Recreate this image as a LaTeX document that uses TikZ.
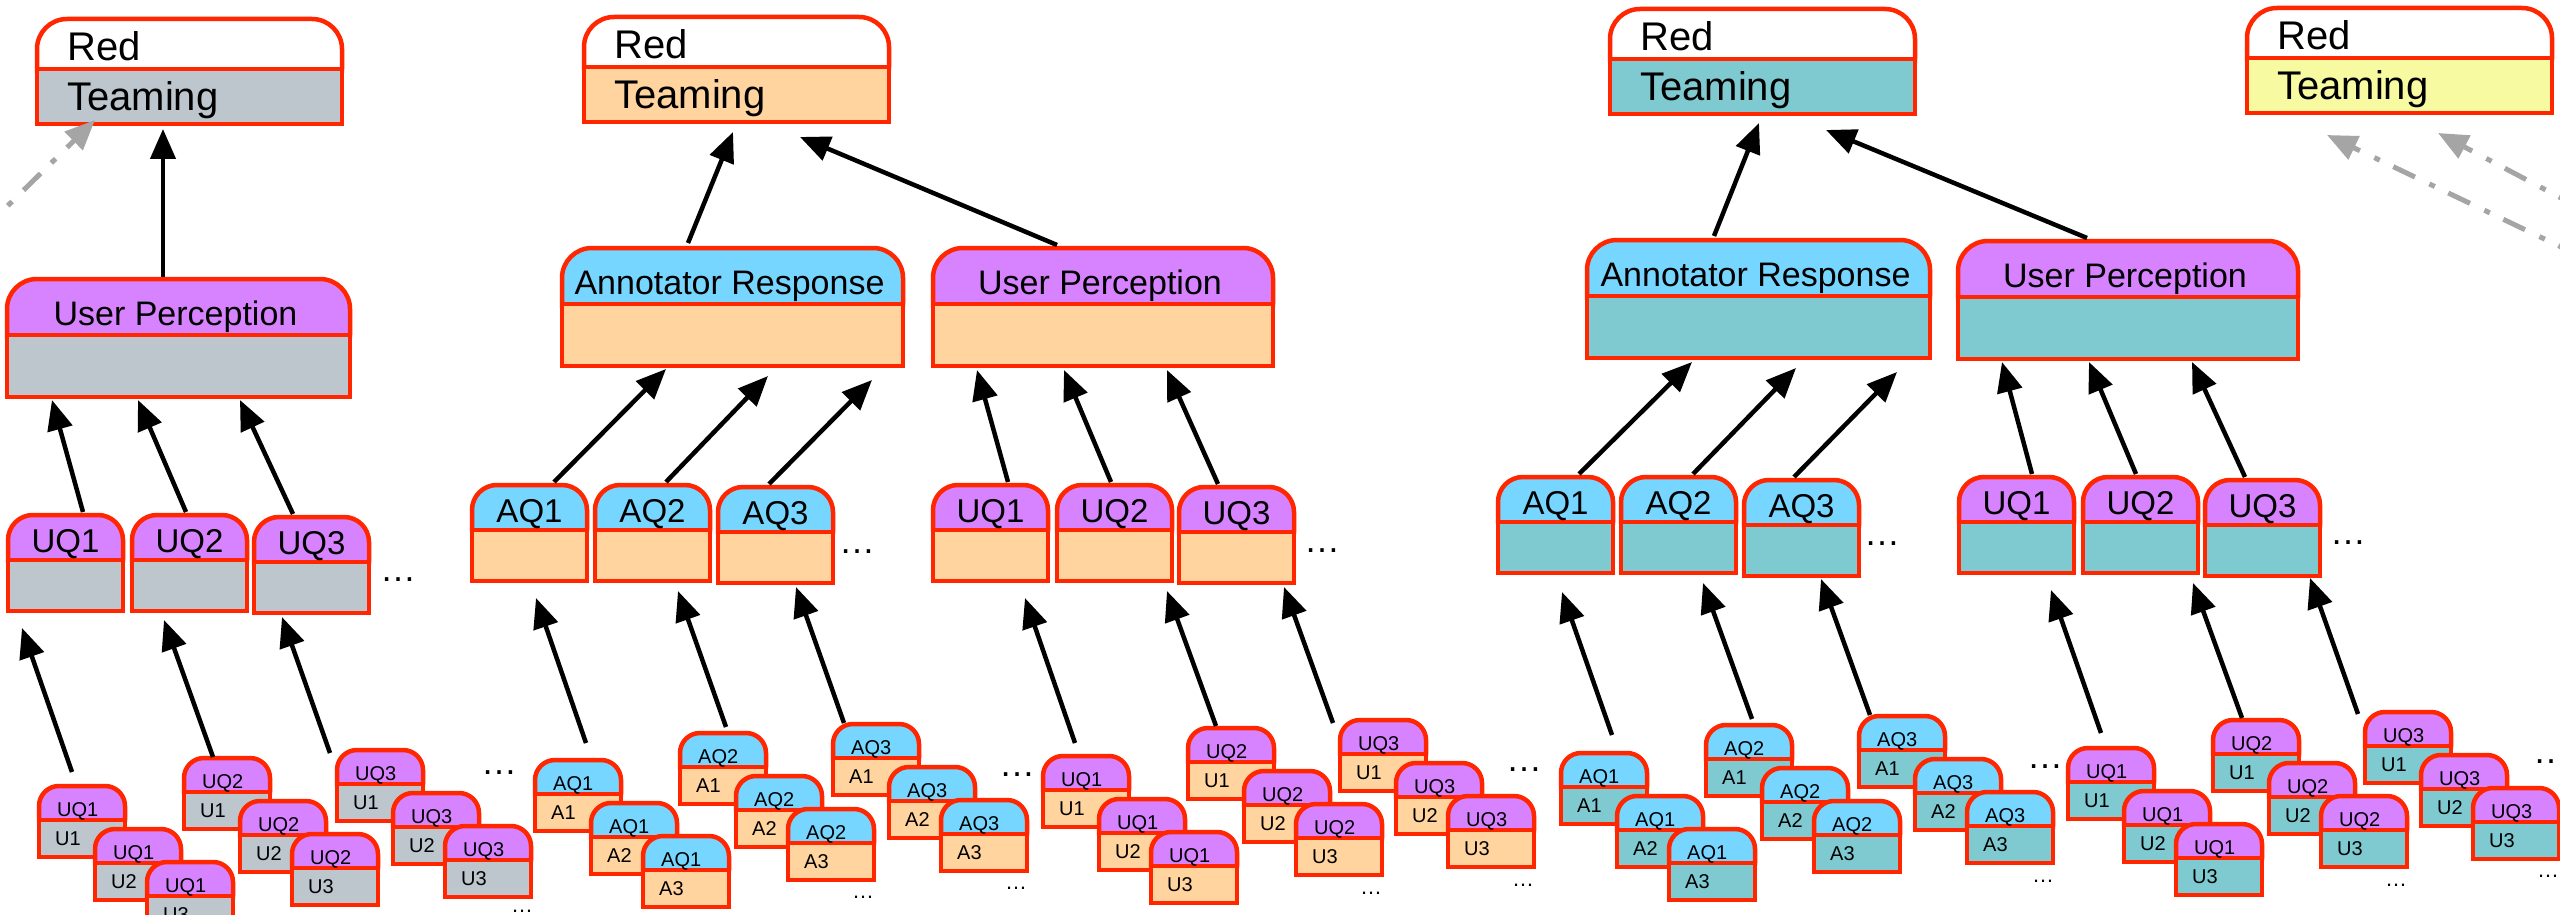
\documentclass[tikz,border=0pt]{standalone}
\usepackage{fontspec}
\setmainfont{Liberation Sans}
\usetikzlibrary{arrows.meta}

\definecolor{edgered}{RGB}{255,38,0}
\definecolor{qpurple}{RGB}{215,131,255}
\definecolor{qblue}{RGB}{118,214,255}
\definecolor{fillgray}{RGB}{188,198,204}
\definecolor{fillpeach}{RGB}{255,212,158}
\definecolor{fillteal}{RGB}{126,202,208}
\definecolor{fillyellow}{RGB}{247,250,160}
\definecolor{hintgray}{RGB}{165,165,165}

\tikzset{
  cardline/.style={draw=edgered, line width=4.5pt},
  arr/.style={draw=black, line width=4.5pt, -{Triangle[length=30pt,width=25pt]}},
  hint/.style={draw=hintgray, line width=5pt, dash pattern=on 24pt off 15pt on 6pt off 16pt,
    -{Triangle[length=30pt,width=25pt]}},
  rlabel/.style={inner sep=0pt, font=\fontsize{40}{48}\selectfont},
  hlabel/.style={inner sep=0pt, font=\fontsize{34}{40}\selectfont},
  qlabel/.style={inner sep=0pt, font=\fontsize{33}{40}\selectfont},
  mlabel/.style={inner sep=0pt, font=\fontsize{20}{24}\selectfont},
  bigdots/.style={inner sep=0pt, font=\fontsize{36}{40}\selectfont},
  smalldots/.style={inner sep=0pt, font=\fontsize{22}{26}\selectfont},
}

% generic card: name, left, top, width, top height, bottom height, radius, top fill, bottom fill
\newcommand\cardbase[9]{%
  \pgfmathsetmacro\cardtot{#5+#6}%
  \node[inner sep=0pt, outer sep=0pt, minimum width=#4pt, minimum height=\cardtot pt,
        anchor=north west] (#1) at (#2,#3) {};
  \filldraw[cardline, fill=#8, rounded corners=#7pt]
    (#1.north west) rectangle ([yshift={-(#5+#7)*1pt}]#1.north east);
  \filldraw[cardline, fill=#9] ([yshift={-#5pt}]#1.north west) rectangle (#1.south east);
}
% Red Teaming header: name, left, top, bottom fill
\newcommand\rcard[4]{%
  \cardbase{#1}{#2}{#3}{305}{50}{55}{30}{white}{#4}%
  \node[rlabel, anchor=base west] (#1-t) at ([xshift=30pt,yshift=-42pt]#1.north west) {Red};
  \node[rlabel, anchor=base west] (#1-b) at ([xshift=30pt,yshift=-92pt]#1.north west) {Teaming};
}
% aggregate card: name, left, top, width, top fill, bottom fill, label
\newcommand\hcard[7]{%
  \cardbase{#1}{#2}{#3}{#4}{56}{62}{30}{#5}{#6}%
  \node[hlabel, anchor=base] (#1-t) at ([xshift=-3pt,yshift=-46pt]#1.north) {#7};
}
% question card: name, left, top, top fill, bottom fill, label
\newcommand\qcard[6]{%
  \cardbase{#1}{#2}{#3}{115}{45}{51}{25}{#4}{#5}%
  \node[qlabel, anchor=base] (#1-t) at ([yshift=-37pt]#1.north) {#6};
}
% response card: name, left, top, top fill, bottom fill, top label, bottom label
\newcommand\mcard[7]{%
  \cardbase{#1}{#2}{#3}{86}{34}{37}{20}{#4}{#5}%
  \node[mlabel, anchor=base west] (#1-t) at ([xshift=18pt,yshift=-30pt]#1.north west) {#6};
  \node[mlabel, anchor=base west] (#1-b) at ([xshift=16pt,yshift=-59pt]#1.north west) {#7};
}
% three overlapping response cards: prefix, left, top, top fill, bottom fill, question, rater letter
\newcommand\cardstack[7]{%
  \mcard{#1a}{#2}{#3}{#4}{#5}{#6}{#71}%
  \mcard{#1b}{#2+56}{#3+43}{#4}{#5}{#6}{#72}%
  \mcard{#1c}{#2+108}{#3+76}{#4}{#5}{#6}{#73}%
}

\begin{document}
\begin{tikzpicture}[x=1pt, y=-1pt]
\fill[white] (0,0) rectangle (2560,915);
\useasboundingbox (0,0) rectangle (2560,915);

% ---------- gray block ----------
\rcard{rt1}{37}{19}{fillgray}
\hcard{up1}{7}{279}{343}{qpurple}{fillgray}{User Perception}
\qcard{q1a}{8}{515}{qpurple}{fillgray}{UQ1}
\qcard{q1b}{132}{515}{qpurple}{fillgray}{UQ2}
\qcard{q1c}{254}{517}{qpurple}{fillgray}{UQ3}
\node[bigdots] (dq1) at (398,580) {\ldots};
\cardstack{s1a}{39}{786}{qpurple}{fillgray}{UQ1}{U}
\cardstack{s1b}{184}{758}{qpurple}{fillgray}{UQ2}{U}
\cardstack{s1c}{337}{750}{qpurple}{fillgray}{UQ3}{U}
\node[bigdots] (ds1) at (499,773) {\ldots};
\node[smalldots] (db1c) at (522,911) {\ldots};

% ---------- peach block ----------
\rcard{rt2}{584}{17}{fillpeach}
\hcard{ar2}{562}{248}{341}{qblue}{fillpeach}{Annotator Response}
\hcard{up3}{933}{248}{340}{qpurple}{fillpeach}{User Perception}
\qcard{q2a}{472}{485}{qblue}{fillpeach}{AQ1}
\qcard{q2b}{595}{485}{qblue}{fillpeach}{AQ2}
\qcard{q2c}{718}{487}{qblue}{fillpeach}{AQ3}
\node[bigdots] (dq2) at (857,552) {\ldots};
\cardstack{s2a}{535}{760}{qblue}{fillpeach}{AQ1}{A}
\cardstack{s2b}{680}{733}{qblue}{fillpeach}{AQ2}{A}
\cardstack{s2c}{833}{724}{qblue}{fillpeach}{AQ3}{A}
\node[bigdots] (ds2) at (1017,775) {\ldots};
\node[smalldots] (db2b) at (863,897) {\ldots};
\node[smalldots] (db2c) at (1016,888) {\ldots};

\qcard{q3a}{933}{485}{qpurple}{fillpeach}{UQ1}
\qcard{q3b}{1057}{485}{qpurple}{fillpeach}{UQ2}
\qcard{q3c}{1179}{487}{qpurple}{fillpeach}{UQ3}
\node[bigdots] (dq3) at (1322,551) {\ldots};
\cardstack{s3a}{1043}{756}{qpurple}{fillpeach}{UQ1}{U}
\cardstack{s3b}{1188}{728}{qpurple}{fillpeach}{UQ2}{U}
\cardstack{s3c}{1340}{720}{qpurple}{fillpeach}{UQ3}{U}
\node[bigdots] (ds3) at (1524,770) {\ldots};
\node[smalldots] (db3b) at (1371,893) {\ldots};
\node[smalldots] (db3c) at (1523,885) {\ldots};

% ---------- teal block ----------
\rcard{rt4}{1610}{9}{fillteal}
\hcard{ar4}{1587}{240}{343}{qblue}{fillteal}{Annotator Response}
\hcard{up5}{1958}{241}{340}{qpurple}{fillteal}{User Perception}
\qcard{q4a}{1498}{477}{qblue}{fillteal}{AQ1}
\qcard{q4b}{1621}{477}{qblue}{fillteal}{AQ2}
\qcard{q4c}{1744}{480}{qblue}{fillteal}{AQ3}
\node[bigdots] (dq4) at (1882,544) {\ldots};
\cardstack{s4a}{1561}{753}{qblue}{fillteal}{AQ1}{A}
\cardstack{s4b}{1706}{725}{qblue}{fillteal}{AQ2}{A}
\cardstack{s4c}{1859}{716}{qblue}{fillteal}{AQ3}{A}
\node[bigdots] (ds4) at (2045,767) {\ldots};
\node[smalldots] (db4c) at (2043,881) {\ldots};

\qcard{q5a}{1959}{477}{qpurple}{fillteal}{UQ1}
\qcard{q5b}{2083}{477}{qpurple}{fillteal}{UQ2}
\qcard{q5c}{2205}{480}{qpurple}{fillteal}{UQ3}
\node[bigdots] (dq5) at (2348,543) {\ldots};
\cardstack{s5a}{2068}{748}{qpurple}{fillteal}{UQ1}{U}
\cardstack{s5b}{2213}{720}{qpurple}{fillteal}{UQ2}{U}
\cardstack{s5c}{2365}{712}{qpurple}{fillteal}{UQ3}{U}
\node[bigdots] (ds5) at (2551,762) {\ldots};
\node[smalldots] (db5b) at (2396,885) {\ldots};
\node[smalldots] (db5c) at (2548,876) {\ldots};

% ---------- yellow header ----------
\rcard{rt5}{2247}{8}{fillyellow}

% ---------- connectors ----------
\coordinate (g1) at (-20,233);
\coordinate (g5a) at (2580,256);
\coordinate (g5b) at (2580,208);
\draw[hint] (g1) -- ([shift={(58,-4)}]rt1.south west);
\draw[hint] (g5a) -- ([shift={(80,22)}]rt5.south west);
\draw[hint] (g5b) -- ([shift={(191,20)}]rt5.south west);

\draw[arr] ([shift={(156,-2)}]up1.north west) -- ([shift={(126,5)}]rt1.south west);
\draw[arr] ([shift={(75,-3)}]q1a.north west) -- ([shift={(45,3)}]up1.south west);
\draw[arr] ([shift={(54,-3)}]q1b.north west) -- ([shift={(131,3)}]up1.south west);
\draw[arr] ([shift={(39,-3)}]q1c.north west) -- ([shift={(233,3)}]up1.south west);
\draw[arr] ([shift={(33,-14)}]s1aa.north west) -- ([shift={(14,17)}]q1a.south west);
\draw[arr] ([shift={(29,-1)}]s1ba.north west) -- ([shift={(32,9)}]q1b.south west);
\draw[arr] ([shift={(-7,3)}]s1ca.north west) -- ([shift={(28,4)}]q1c.south west);

\draw[arr] ([shift={(126,-5)}]ar2.north west) -- ([shift={(149,10)}]rt2.south west);
\draw[arr] ([shift={(124,-3)}]up3.north west) -- ([shift={(216,15)}]rt2.south west);
\draw[arr] ([shift={(82,-3)}]q2a.north west) -- ([shift={(104,3)}]ar2.south west);
\draw[arr] ([shift={(71,-3)}]q2b.north west) -- ([shift={(206,10)}]ar2.south west);
\draw[arr] ([shift={(51,-3)}]q2c.north west) -- ([shift={(310,14)}]ar2.south west);
\draw[arr] ([shift={(51,-17)}]s2aa.north west) -- ([shift={(64,17)}]q2a.south west);
\draw[arr] ([shift={(46,-6)}]s2ba.north west) -- ([shift={(83,10)}]q2b.south west);
\draw[arr] ([shift={(11,-1)}]s2ca.north west) -- ([shift={(78,4)}]q2c.south west);

\draw[arr] ([shift={(75,-3)}]q3a.north west) -- ([shift={(44,4)}]up3.south west);
\draw[arr] ([shift={(54,-3)}]q3b.north west) -- ([shift={(131,4)}]up3.south west);
\draw[arr] ([shift={(39,-3)}]q3c.north west) -- ([shift={(234,4)}]up3.south west);
\draw[arr] ([shift={(32,-13)}]s3aa.north west) -- ([shift={(92,17)}]q3a.south west);
\draw[arr] ([shift={(28,-2)}]s3ba.north west) -- ([shift={(110,10)}]q3b.south west);
\draw[arr] ([shift={(-7,3)}]s3ca.north west) -- ([shift={(105,4)}]q3c.south west);

\draw[arr] ([shift={(127,-4)}]ar4.north west) -- ([shift={(149,9)}]rt4.south west);
\draw[arr] ([shift={(129,-3)}]up5.north west) -- ([shift={(216,16)}]rt4.south west);
\draw[arr] ([shift={(81,-3)}]q4a.north west) -- ([shift={(105,4)}]ar4.south west);
\draw[arr] ([shift={(72,-3)}]q4b.north west) -- ([shift={(209,10)}]ar4.south west);
\draw[arr] ([shift={(50,-3)}]q4c.north west) -- ([shift={(310,14)}]ar4.south west);
\draw[arr] ([shift={(51,-18)}]s4aa.north west) -- ([shift={(64,19)}]q4a.south west);
\draw[arr] ([shift={(46,-6)}]s4ba.north west) -- ([shift={(82,10)}]q4b.south west);
\draw[arr] ([shift={(11,-1)}]s4ca.north west) -- ([shift={(77,3)}]q4c.south west);

\draw[arr] ([shift={(73,-3)}]q5a.north west) -- ([shift={(44,3)}]up5.south west);
\draw[arr] ([shift={(53,-3)}]q5b.north west) -- ([shift={(131,3)}]up5.south west);
\draw[arr] ([shift={(40,-3)}]q5c.north west) -- ([shift={(234,3)}]up5.south west);
\draw[arr] ([shift={(33,-15)}]s5aa.north west) -- ([shift={(92,17)}]q5a.south west);
\draw[arr] ([shift={(29,-2)}]s5ba.north west) -- ([shift={(110,10)}]q5b.south west);
\draw[arr] ([shift={(-7,2)}]s5ca.north west) -- ([shift={(105,2)}]q5c.south west);
\end{tikzpicture}
\end{document}
